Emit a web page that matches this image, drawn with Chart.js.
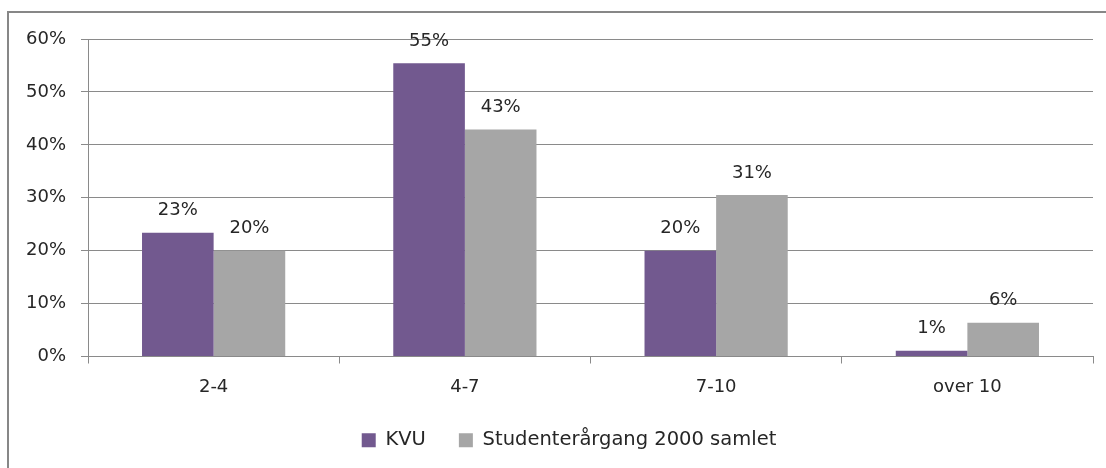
<!DOCTYPE html>
<html>
<head>
<meta charset="utf-8">
<script src="https://cdn.jsdelivr.net/npm/chart.js@4.4.0/dist/chart.umd.min.js"></script>
<style>
    body { margin: 0; background: #fff; width: 1106px; height: 468px; overflow: hidden; position: relative; }
    #frame { position: absolute; left: 7px; top: 11px; width: 1120px; height: 480px; border: 2px solid #878787; }
    #chart-box { position: absolute; left: 0; top: 0; width: 1097px; height: 455px; }
</style>
</head>
<body>
<div id="frame">
    <div id="chart-box"><canvas id="chart"></canvas></div>
</div>
<script>
const categories = ['2-4', '4-7', '7-10', 'over 10'];
const kvuValues = [23.4, 55.4, 20.0, 1.1];
const studentValues = [20.0, 42.9, 30.5, 6.4];
const seriesNames = ['KVU', 'Studenterårgang 2000 samlet'];

const FONT = 'DejaVu Sans';
const TEXT = '#262626';

// draws the "23%" style labels above each bar
const barLabels = {
    id: 'barLabels',
    afterDatasetsDraw(chart) {
        const ctx = chart.ctx;
        ctx.save();
        ctx.font = `18px "${FONT}"`;
        ctx.fillStyle = TEXT;
        ctx.textAlign = 'center';
        ctx.textBaseline = 'middle';
        chart.data.datasets.forEach((ds, i) => {
            chart.getDatasetMeta(i).data.forEach((bar, j) => {
                ctx.fillText(Math.round(ds.data[j]) + '%', bar.x, bar.y - 22);
            });
        });
        ctx.restore();
    }
};

// legend in the original sits a bit right of centre
const legendShift = {
    id: 'legendShift',
    afterLayout(chart) {
        chart.legend.left += 18;
        chart.legend.right += 18;
    }
};

new Chart(document.getElementById('chart'), {
    type: 'bar',
    data: {
        labels: categories,
        datasets: [
            { label: seriesNames[0], data: kvuValues, backgroundColor: '#72598F' },
            { label: seriesNames[1], data: studentValues, backgroundColor: '#A6A6A6' }
        ]
    },
    options: {
        responsive: true,
        maintainAspectRatio: false,
        animation: false,
        events: [],
        layout: { padding: { top: 26, right: 13, left: 0, bottom: 8 } },
        datasets: { bar: { categoryPercentage: 0.57, barPercentage: 1.0 } },
        plugins: {
            legend: {
                position: 'bottom',
                labels: {
                    boxWidth: 14, boxHeight: 14, padding: 33,
                    color: TEXT,
                    font: { family: FONT, size: 19.5 }
                }
            },
            tooltip: { enabled: false }
        },
        scales: {
            x: {
                afterFit(scale) { scale.height = 41; },
                grid: { drawOnChartArea: false, color: '#8a8a8a', tickLength: 7, offset: true },
                border: { color: '#8a8a8a' },
                ticks: { color: TEXT, font: { family: FONT, size: 18 }, padding: 13 }
            },
            y: {
                min: 0, max: 60,
                afterFit(scale) { scale.width = 79; },
                grid: { color: '#8a8a8a', tickLength: 7 },
                border: { color: '#8a8a8a' },
                ticks: {
                    stepSize: 10, padding: 15, color: TEXT,
                    font: { family: FONT, size: 18 },
                    callback: v => v + '%'
                }
            }
        }
    },
    plugins: [barLabels, legendShift]
});
</script>
</body>
</html>
